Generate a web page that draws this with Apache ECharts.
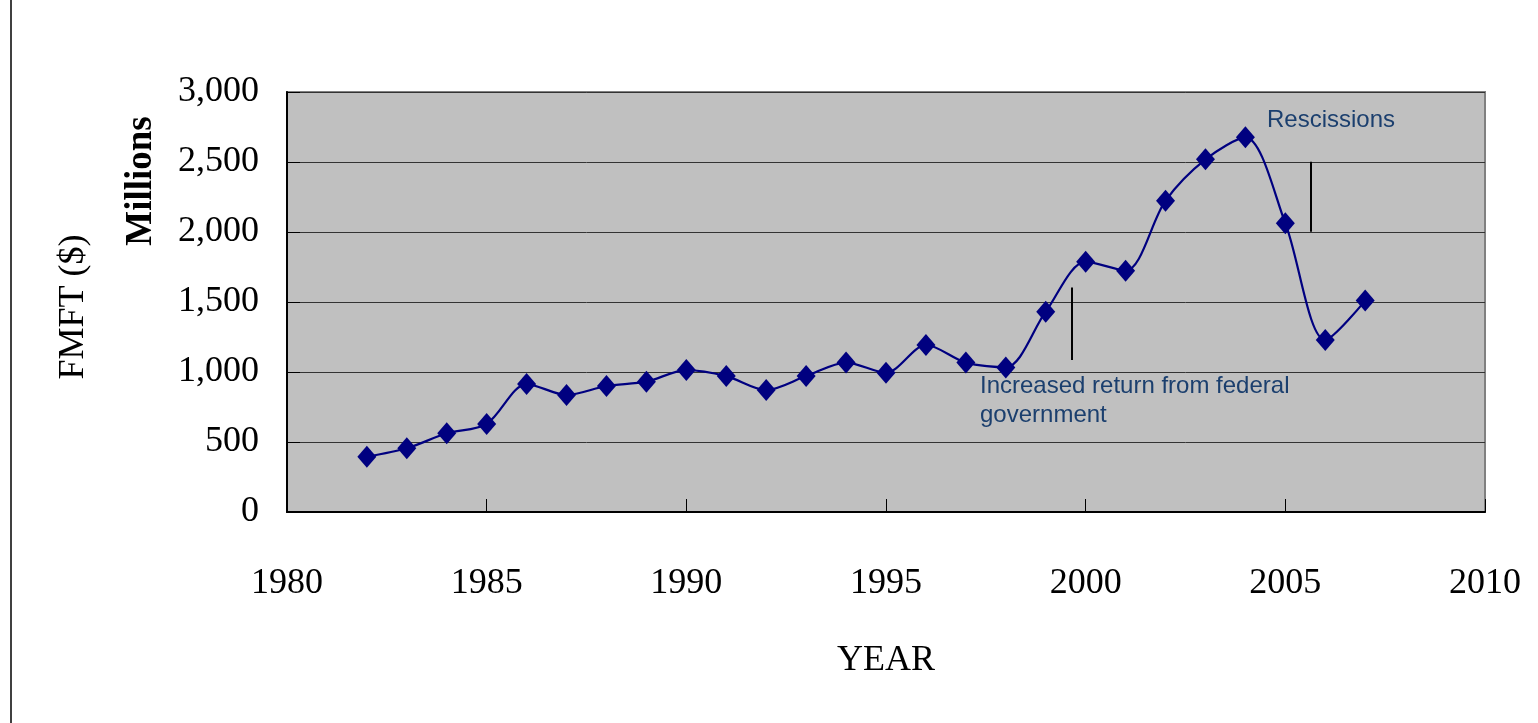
<!DOCTYPE html>
<html>
<head>
<meta charset="utf-8">
<script src="https://cdn.jsdelivr.net/npm/echarts@6/dist/echarts.min.js"></script>
<style>
html,body{margin:0;padding:0;background:#fff;}
#c{width:1538px;height:723px;}
</style>
</head>
<body>
<div id="c"></div>
<script>
var years = [1982,1983,1984,1985,1986,1987,1988,1989,1990,1991,1992,1993,1994,1995,1996,1997,1998,1999,2000,2001,2002,2003,2004,2005,2006,2007];
var fmft = [395,455,562,629,914,836,900,931,1014,971,871,971,1067,995,1193,1067,1033,1431,1788,1724,2224,2519,2676,2062,1229,1510];
var yTicks = [0,500,1000,1500,2000,2500,3000];
var xTicks = [1980,1985,1990,1995,2000,2005,2010];
var annotFederal = {x:1999.66, y1:1603, y2:1086, text:['Increased return from federal','government']};
var annotRescission = {x:2005.63, y1:2502, y2:2002, text:'Rescissions'};

var chart = echarts.init(document.getElementById('c'), null, {renderer:'canvas'});
var serif = '"Liberation Serif","Times New Roman",serif';
var sans = '"Liberation Sans",Arial,sans-serif';
var txtBlue = '#1B3F6E';

chart.setOption({
  animation:false,
  backgroundColor:'#ffffff',
  grid:{left:287,right:53,top:92,bottom:211,show:true,backgroundColor:'#C0C0C0',borderColor:'#808080',borderWidth:2},
  xAxis:{
    type:'value',min:xTicks[0],max:xTicks[xTicks.length-1],interval:5,
    name:'YEAR',nameLocation:'middle',nameGap:131,
    nameTextStyle:{fontFamily:serif,fontSize:36,color:'#000'},
    axisLine:{show:true,onZero:false,lineStyle:{color:'#000',width:2}},
    axisTick:{show:true,inside:true,length:13,lineStyle:{color:'#000',width:1}},
    axisLabel:{margin:54,fontFamily:serif,fontSize:36,color:'#000',formatter:function(v){return String(v);}},
    splitLine:{show:false}
  },
  yAxis:{
    type:'value',min:yTicks[0],max:yTicks[yTicks.length-1],interval:500,
    axisLine:{show:true,lineStyle:{color:'#000',width:2}},
    axisTick:{show:true,inside:true,length:13,lineStyle:{color:'#000',width:1}},
    axisLabel:{margin:28,fontFamily:serif,fontSize:36,color:'#000',formatter:function(v){return v.toLocaleString('en-US');}},
    splitLine:{show:true,lineStyle:{color:'#333333',width:1}}
  },
  series:[
    {
      type:'line',
      data:years.map(function(y,i){return [y,fmft[i]];}),
      smooth:0.3,
      symbol:'diamond',symbolSize:[19,22],
      itemStyle:{color:'#000080'},
      lineStyle:{color:'#000080',width:2.2},
      z:5
    },
    {
      type:'line',data:[],
      markLine:{
        silent:true,symbol:['none','none'],label:{show:false},
        lineStyle:{color:'#000',width:2,type:'solid'},
        data:[
          [{coord:[annotFederal.x,annotFederal.y1]},{coord:[annotFederal.x,annotFederal.y2]}],
          [{coord:[annotRescission.x,annotRescission.y1]},{coord:[annotRescission.x,annotRescission.y2]}]
        ]
      }
    }
  ],
  graphic:[
    {type:'line',shape:{x1:11,y1:0,x2:11,y2:723},style:{stroke:'#000',lineWidth:1.5}},
    {type:'text',x:74,y:307,rotation:Math.PI/2,style:{text:'FMFT ($)',font:'36px '+serif,fill:'#000',textAlign:'center',textVerticalAlign:'middle'}},
    {type:'text',x:141,y:181,rotation:Math.PI/2,style:{text:'Millions',font:'bold 37px '+serif,fill:'#000',textAlign:'center',textVerticalAlign:'middle'}},
    {type:'text',x:1267,y:120,style:{text:annotRescission.text,font:'24px '+sans,fill:txtBlue,textAlign:'left',textVerticalAlign:'middle'}},
    {type:'text',x:980,y:386,style:{text:annotFederal.text[0],font:'24px '+sans,fill:txtBlue,textAlign:'left',textVerticalAlign:'middle'}},
    {type:'text',x:980,y:415,style:{text:annotFederal.text[1],font:'24px '+sans,fill:txtBlue,textAlign:'left',textVerticalAlign:'middle'}}
  ]
});
</script>
</body>
</html>
